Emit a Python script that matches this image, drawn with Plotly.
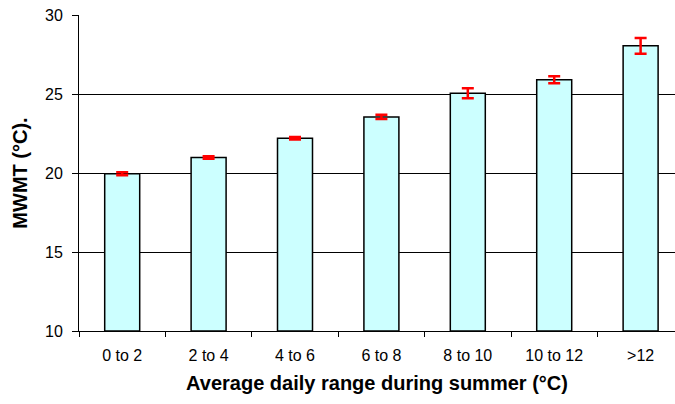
import plotly.graph_objects as go

# Mean warmest-month temperature by class of average daily summer range
categories = ["0 to 2", "2 to 4", "4 to 6", "6 to 8", "8 to 10", "10 to 12", ">12"]
mwmt = [19.95, 20.98, 22.2, 23.55, 25.05, 25.9, 28.05]
mwmt_err = [0.1, 0.08, 0.08, 0.13, 0.32, 0.22, 0.5]

y_ticks = [10, 15, 20, 25, 30]

FONT = "Liberation Sans, Arial, sans-serif"

fig = go.Figure(
    go.Bar(
        x=categories,
        y=[v - 10 for v in mwmt],
        base=10,
        width=0.405,
        marker=dict(color="#CCFFFF", line=dict(color="black", width=1.5)),
        error_y=dict(
            type="data",
            array=mwmt_err,
            color="red",
            thickness=2.5,
            width=6,
        ),
        hoverinfo="skip",
    )
)

fig.update_layout(
    width=675,
    height=404,
    margin=dict(l=79, r=0, t=15, b=73),
    paper_bgcolor="white",
    plot_bgcolor="white",
    showlegend=False,
    font=dict(family=FONT, size=16, color="black"),
    xaxis=dict(
        range=[-0.5, 6.398],
        showline=True,
        linecolor="black",
        linewidth=1,
        ticks="outside",
        tickson="boundaries",
        ticklen=5,
        tickcolor="black",
        showgrid=False,
        tickfont=dict(size=16),
        ticklabelstandoff=10,
        title=dict(
            text="<b>Average daily range during summer (°C)</b>",
            font=dict(size=20),
            standoff=12,
        ),
    ),
    yaxis=dict(
        range=[10, 30],
        tickvals=y_ticks,
        showline=True,
        linecolor="black",
        linewidth=1,
        ticks="outside",
        ticklen=6,
        tickcolor="black",
        showgrid=True,
        gridcolor="black",
        gridwidth=1,
        zeroline=False,
        tickfont=dict(size=16),
        ticklabelstandoff=6,
        title=dict(text="<b>MWMT (°C).</b>", font=dict(size=20), standoff=12),
    ),
)

fig.write_html("out.html")
